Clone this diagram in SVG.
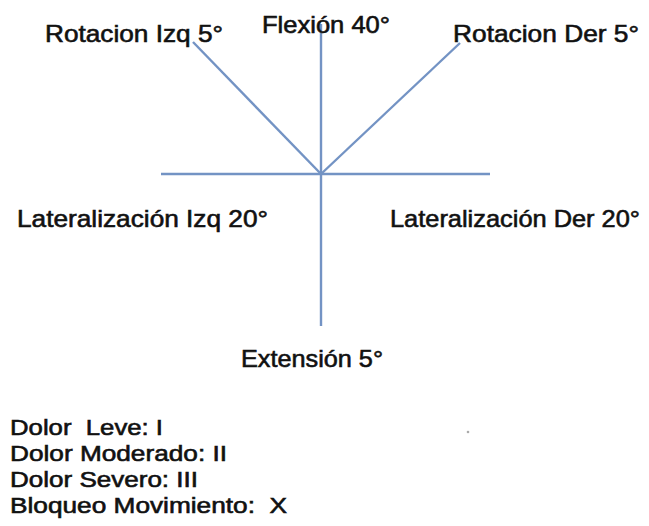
<svg xmlns="http://www.w3.org/2000/svg" width="649" height="526" viewBox="0 0 649 526">
  <style>
    .lbl { font-family: "Liberation Sans", Arial, sans-serif; font-size: 24px; fill: #111; stroke: #111; stroke-width: 0.6; }
    .leg { font-family: "Liberation Sans", Arial, sans-serif; font-size: 22px; fill: #111; stroke: #111; stroke-width: 0.6; white-space: pre; }
    .axis { stroke: #7393c4; stroke-width: 2.4; fill: none; stroke-linecap: butt; }
  </style>
  <rect width="649" height="526" fill="#ffffff"/>
  <g id="connectors">
    <line class="axis" x1="321" y1="24" x2="321" y2="326"/>
    <line class="axis" x1="161" y1="174" x2="490" y2="174"/>
    <line class="axis" x1="193" y1="42" x2="321" y2="174"/>
    <line class="axis" x1="460" y1="43" x2="321" y2="174"/>
  </g>
  <g id="rotacion-izq"><text class="lbl" x="45" y="42" textLength="178" lengthAdjust="spacingAndGlyphs">Rotacion Izq 5°</text></g>
  <g id="flexion"><text class="lbl" x="262" y="33" textLength="128" lengthAdjust="spacingAndGlyphs">Flexión 40°</text></g>
  <g id="rotacion-der"><text class="lbl" x="453" y="42" textLength="186" lengthAdjust="spacingAndGlyphs">Rotacion Der 5°</text></g>
  <g id="lateral-izq"><text class="lbl" x="17" y="227" textLength="251" lengthAdjust="spacingAndGlyphs">Lateralización Izq 20°</text></g>
  <g id="lateral-der"><text class="lbl" x="390" y="227" textLength="250" lengthAdjust="spacingAndGlyphs">Lateralización Der 20°</text></g>
  <g id="extension"><text class="lbl" x="241" y="367" textLength="142" lengthAdjust="spacingAndGlyphs">Extensión 5°</text></g>
  <g id="legend">
    <text class="leg" x="10" y="435" textLength="153" lengthAdjust="spacingAndGlyphs" xml:space="preserve">Dolor  Leve: I</text>
    <text class="leg" x="10" y="461" textLength="217" lengthAdjust="spacingAndGlyphs">Dolor Moderado: II</text>
    <text class="leg" x="10" y="487" textLength="188" lengthAdjust="spacingAndGlyphs">Dolor Severo: III</text>
    <text class="leg" x="10" y="513" textLength="277" lengthAdjust="spacingAndGlyphs" xml:space="preserve">Bloqueo Movimiento:  X</text>
  </g>
  <circle cx="468" cy="432" r="1.3" fill="#aaaaaa"/>
</svg>
